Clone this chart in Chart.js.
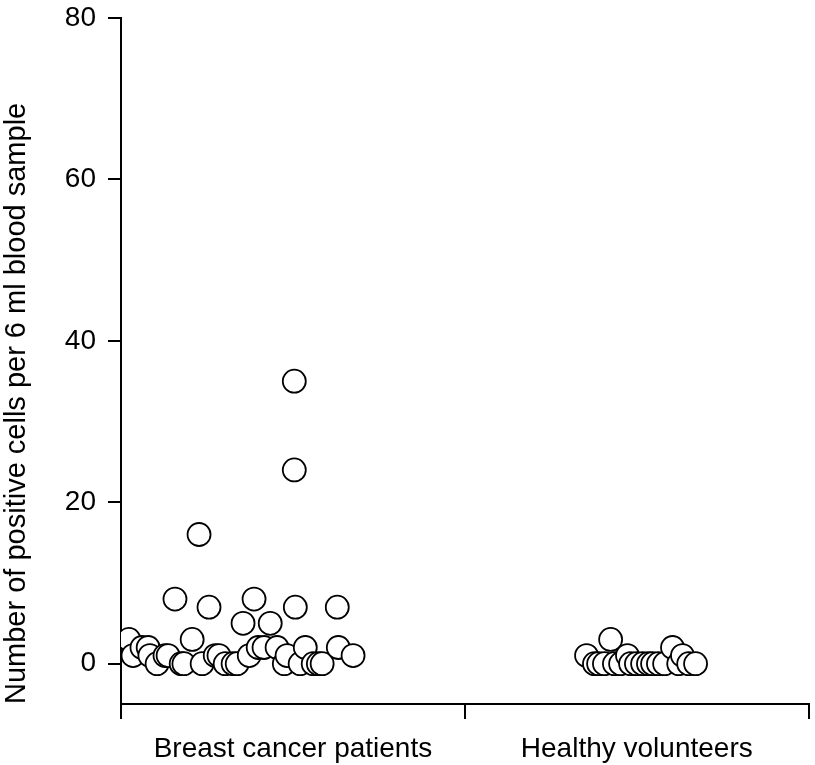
<!DOCTYPE html>
<html lang="en">
<head>
    <meta charset="UTF-8">
    <title>Positive cells per blood sample</title>
    <script src="https://cdn.jsdelivr.net/npm/chart.js"></script>
    <style>
        html, body { margin: 0; padding: 0; background: #fff; overflow: hidden; }
        .grafico { width: 822px; height: 765px; }
    </style>
</head>
<body>
    <div class="grafico">
        <canvas id="grafico-celulas"></canvas>
    </div>

<script>
    // groups on the x axis (centre of each band)
    const grupos = ['Breast cancer patients', 'Healthy volunteers'];
    const centrosGrupos = [0.5, 1.5];
    const limitesGrupos = [0, 1, 2];
    const yTicks = [0, 20, 40, 60, 80];

    // breast cancer patients: jittered x position and cell count
    const cancerX = [0.023, 0.035, 0.061, 0.079, 0.084, 0.105, 0.128, 0.137, 0.157, 0.175,
                     0.183, 0.207, 0.227, 0.236, 0.256, 0.274, 0.285, 0.303, 0.326, 0.338,
                     0.355, 0.373, 0.387, 0.399, 0.416, 0.434, 0.454, 0.475, 0.483, 0.504,
                     0.504, 0.507, 0.521, 0.536, 0.559, 0.574, 0.585, 0.629, 0.632, 0.675];
    const cancerValores = [3, 1, 2, 2, 1, 0, 1, 1, 8, 0,
                           0, 3, 16, 0, 7, 1, 1, 0, 0, 0,
                           5, 1, 8, 2, 2, 5, 2, 0, 1, 35,
                           24, 7, 0, 2, 0, 0, 0, 7, 2, 1];

    // healthy volunteers
    const saudaveisX = [1.354, 1.377, 1.389, 1.406, 1.424, 1.435, 1.453, 1.473, 1.482, 1.499,
                        1.517, 1.534, 1.546, 1.563, 1.581, 1.604, 1.622, 1.633, 1.651, 1.671];
    const saudaveisValores = [1, 0, 0, 0, 3, 0, 0, 1, 0, 0,
                              0, 0, 0, 0, 0, 2, 0, 1, 0, 0];

    const pontosCancer = cancerX.map((x, i) => ({ x: x, y: cancerValores[i] }));
    const pontosSaudaveis = saudaveisX.map((x, i) => ({ x: x, y: saudaveisValores[i] }));

    Chart.defaults.font.family = '"Liberation Sans", Arial, Helvetica, sans-serif';
    Chart.defaults.color = '#000';

    const estiloPonto = {
        pointRadius: 11.5,
        pointHoverRadius: 11.5,
        pointBackgroundColor: '#fff',
        pointBorderColor: '#000',
        pointBorderWidth: 1.8,
        showLine: false
    };

    new Chart(document.getElementById('grafico-celulas'), {
        type: 'scatter',
        data: {
            datasets: [
                Object.assign({ label: grupos[0], data: pontosCancer }, estiloPonto),
                Object.assign({ label: grupos[1], data: pontosSaudaveis }, estiloPonto)
            ]
        },
        options: {
            responsive: true,
            maintainAspectRatio: false,
            animation: false,
            layout: { padding: { top: 18, right: 0, left: 0, bottom: 0 } },
            plugins: {
                legend: { display: false },
                tooltip: { enabled: false }
            },
            scales: {
                x: {
                    type: 'linear',
                    min: 0,
                    max: 2,
                    afterBuildTicks: (scale) => {
                        const valores = limitesGrupos.concat(centrosGrupos).sort((a, b) => a - b);
                        scale.ticks = valores.map(v => ({ value: v }));
                    },
                    afterFit: (scale) => {
                        scale.height = 61;
                        scale.paddingLeft = 0;
                        scale.paddingRight = 0;
                    },
                    border: { display: true, color: '#000', width: 2 },
                    grid: {
                        drawOnChartArea: false,
                        drawTicks: true,
                        tickLength: 15,
                        lineWidth: 2,
                        tickColor: (ctx) => limitesGrupos.includes(ctx.tick.value) ? '#000' : 'rgba(0,0,0,0)'
                    },
                    ticks: {
                        autoSkip: false,
                        maxRotation: 0,
                        padding: 13,
                        font: { size: 28 },
                        callback: (v) => {
                            const i = centrosGrupos.indexOf(v);
                            return i >= 0 ? grupos[i] : '';
                        }
                    }
                },
                y: {
                    min: -5,
                    max: 80,
                    afterBuildTicks: (scale) => {
                        scale.ticks = yTicks.map(v => ({ value: v }));
                    },
                    afterFit: (scale) => {
                        scale.width = 121;
                        scale.paddingTop = 0;
                        scale.paddingBottom = 0;
                    },
                    border: { display: true, color: '#000', width: 2 },
                    grid: {
                        drawOnChartArea: false,
                        drawTicks: true,
                        tickLength: 13,
                        lineWidth: 2,
                        tickColor: '#000'
                    },
                    ticks: {
                        padding: 12,
                        font: { size: 28 }
                    },
                    title: {
                        display: true,
                        align: 'start',
                        text: 'Number of positive cells per 6 ml blood sample',
                        font: { size: 29 },
                        padding: { top: 0, bottom: 4 }
                    }
                }
            }
        }
    });
</script>
</body>
</html>
